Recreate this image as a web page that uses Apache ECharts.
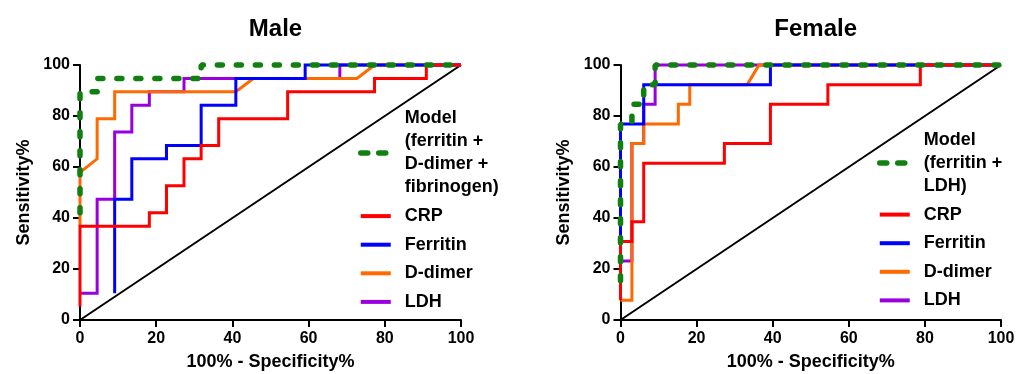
<!DOCTYPE html>
<html>
<head>
<meta charset="utf-8">
<script src="https://cdn.jsdelivr.net/npm/echarts@6/dist/echarts.min.js"></script>
<style>html,body{margin:0;padding:0;background:#fff;}#c{width:1018px;height:374px;}</style>
</head>
<body>
<div id="c"></div>
<script>
// ---- data (x = 100% - Specificity%, y = Sensitivity%) ----
const xTicks = [0, 20, 40, 60, 80, 100];
const yTicks = [0, 20, 40, 60, 80, 100];
const identity = [[0, 0], [100, 100]];

const maleModelName = "Model\n(ferritin +\nD-dimer +\nfibrinogen)";
const maleModel = [[0,42.1],[0,89.5],[4.5,89.5],[4.5,94.7],[31.8,94.7],[31.8,100],[100,100]];
const maleCRP = [[0,5.3],[0,36.8],[18.2,36.8],[18.2,42.1],[22.7,42.1],[22.7,52.6],[27.3,52.6],[27.3,63.2],[31.8,63.2],[31.8,68.4],[36.4,68.4],[36.4,78.9],[54.5,78.9],[54.5,89.5],[77.3,89.5],[77.3,94.7],[90.9,94.7],[90.9,100],[100,100]];
const maleFerritin = [[9.1,10.5],[9.1,47.4],[13.6,47.4],[13.6,63.2],[22.7,63.2],[22.7,68.4],[31.8,68.4],[31.8,84.2],[40.9,84.2],[40.9,94.7],[59.1,94.7],[59.1,100],[100,100]];
const maleDdimer = [[0,36.8],[0,57.9],[4.5,63.2],[4.5,78.9],[9.1,78.9],[9.1,89.5],[40.9,89.5],[45.5,94.7],[72.7,94.7],[77.3,100],[100,100]];
const maleLDH = [[0,10.5],[4.5,10.5],[4.5,47.4],[9.1,47.4],[9.1,73.7],[13.6,73.7],[13.6,84.2],[18.2,84.2],[18.2,89.5],[27.3,89.5],[27.3,94.7],[68.2,94.7],[68.2,100],[100,100]];

const femaleModelName = "Model\n(ferritin +\nLDH)";
const femaleModel = [[0,15.4],[0,76.9],[3.0,76.9],[3.0,84.6],[6.1,84.6],[6.1,92.3],[9.1,92.3],[9.1,100],[100,100]];
const femaleCRP = [[0,7.7],[0,30.8],[3.0,30.8],[3.0,38.5],[6.1,38.5],[6.1,61.5],[27.3,61.5],[27.3,69.2],[39.4,69.2],[39.4,84.6],[54.5,84.6],[54.5,92.3],[78.8,92.3],[78.8,100],[100,100]];
const femaleFerritin = [[0,23.1],[0,76.9],[6.1,76.9],[6.1,92.3],[39.4,92.3],[39.4,100],[100,100]];
const femaleDdimer = [[0,7.7],[3.0,7.7],[3.0,69.2],[6.1,69.2],[6.1,76.9],[15.2,76.9],[15.2,84.6],[18.2,84.6],[18.2,92.3],[33.3,92.3],[36.4,100],[100,100]];
const femaleLDH = [[0,23.1],[3.0,23.1],[3.0,69.2],[6.1,69.2],[6.1,84.6],[9.1,84.6],[9.1,100],[100,100]];

// ---- styling ----
const FONT = "'Liberation Sans', Arial, sans-serif";
const COLORS = { model: '#118011', crp: '#ff0000', ferritin: '#0000ff', ddimer: '#ff6a00', ldh: '#9900dd' };

function axis(idx, name, isX) {
  return {
    type: 'value', gridIndex: idx, min: 0, max: 100, interval: 20,
    name: name, nameLocation: 'middle', nameGap: isX ? 33 : 47,
    nameTextStyle: { fontFamily: FONT, fontWeight: 'bold', fontSize: 18, color: '#000' },
    axisLine: { show: true, onZero: false, lineStyle: { color: '#000', width: 2 } },
    axisTick: { show: true, length: 7, lineStyle: { color: '#000', width: 2 } },
    axisLabel: { fontFamily: FONT, fontWeight: 'bold', fontSize: 16, color: '#000', margin: isX ? 11 : 10,
      formatter: v => (isX ? xTicks : yTicks).includes(v) ? String(v) : '' },
    splitLine: { show: false }
  };
}

function line(idx, name, data, color, opts) {
  return Object.assign({
    type: 'line', name: name, xAxisIndex: idx, yAxisIndex: idx, data: data,
    symbol: 'none', clip: false, animation: false, silent: true,
    lineStyle: { color: color, width: 3, join: 'miter' },
    itemStyle: { color: color }
  }, opts || {});
}

function panel(idx, modelName, model, crp, fer, dd, ldh) {
  return [
    line(idx, 'identity' + idx, identity, '#000', { lineStyle: { color: '#000', width: 2 } }),
    line(idx, 'LDH', ldh, COLORS.ldh),
    line(idx, 'D-dimer', dd, COLORS.ddimer),
    line(idx, 'Ferritin', fer, COLORS.ferritin),
    line(idx, 'CRP', crp, COLORS.crp),
    line(idx, modelName, model, COLORS.model, {
      lineStyle: { color: COLORS.model, width: 5.5, type: [5, 14], cap: 'round' }
    })
  ];
}

function legendItem(name, color, dashed) {
  return {
    name: name,
    itemStyle: { color: 'transparent', borderColor: 'transparent', borderWidth: 0, opacity: 0 },
    lineStyle: dashed
      ? { color: color, width: 5.5, type: [7, 11], cap: 'round', dashOffset: 0 }
      : { color: color, width: 4, type: 'solid', cap: 'butt' }
  };
}

function legend(left, top, modelName) {
  return {
    left: left, top: top, orient: 'vertical', itemWidth: 30, itemHeight: 14, itemGap: 5.6,
    padding: 0, selectedMode: false,
    data: [
      legendItem(modelName, COLORS.model, true),
      legendItem('CRP', COLORS.crp),
      legendItem('Ferritin', COLORS.ferritin),
      legendItem('D-dimer', COLORS.ddimer),
      legendItem('LDH', COLORS.ldh)
    ],
    textStyle: { fontFamily: FONT, fontWeight: 'bold', fontSize: 18, lineHeight: 23, color: '#000', padding: [0, 0, 0, 9] }
  };
}

const chart = echarts.init(document.getElementById('c'), null, { renderer: 'canvas' });
chart.setOption({
  animation: false,
  backgroundColor: '#fff',
  title: [
    { text: 'Male', left: 270.5, top: 12, textAlign: 'center', textStyle: { fontFamily: FONT, fontWeight: 'bold', fontSize: 24, color: '#000' } },
    { text: 'Female', left: 810.7, top: 12, textAlign: 'center', textStyle: { fontFamily: FONT, fontWeight: 'bold', fontSize: 24, color: '#000' } }
  ],
  grid: [
    { left: 80, top: 65, width: 381, height: 255, containLabel: false, outerBoundsMode: 'none' },
    { left: 620.5, top: 65, width: 380.5, height: 255, containLabel: false, outerBoundsMode: 'none' }
  ],
  xAxis: [axis(0, '100% - Specificity%', true), axis(1, '100% - Specificity%', true)],
  yAxis: [axis(0, 'Sensitivity%', false), axis(1, 'Sensitivity%', false)],
  legend: [legend(358, 107, maleModelName), legend(877, 128.5, femaleModelName)],
  series: [].concat(
    panel(0, maleModelName, maleModel, maleCRP, maleFerritin, maleDdimer, maleLDH),
    panel(1, femaleModelName, femaleModel, femaleCRP, femaleFerritin, femaleDdimer, femaleLDH)
  )
});
</script>
</body>
</html>
